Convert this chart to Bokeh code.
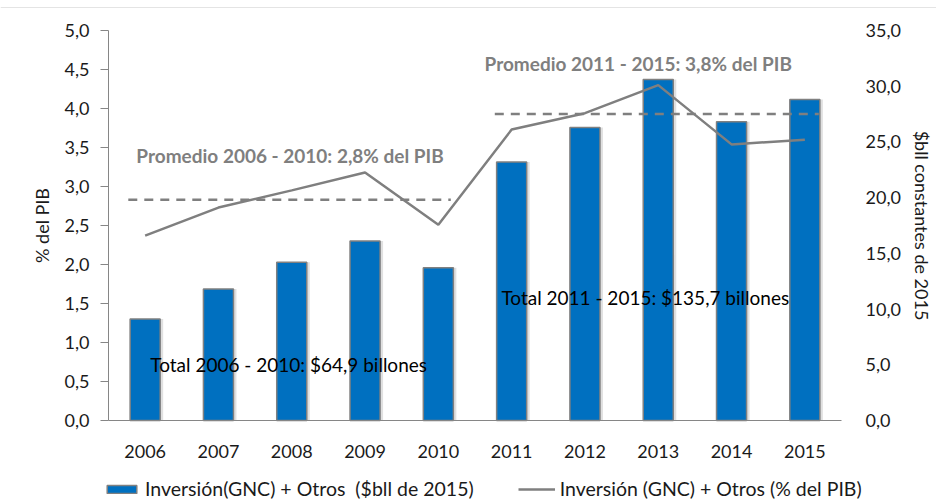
from bokeh.plotting import figure
from bokeh.models import (Range1d, LinearAxis, FixedTicker, CustomJSTickFormatter,
                          Label, Legend, LegendItem, ColumnDataSource, Span)
from bokeh.transform import dodge
from bokeh.embed import file_html
from bokeh.resources import INLINE

# ---- data ----
years = [2006, 2007, 2008, 2009, 2010, 2011, 2012, 2013, 2014, 2015]
inversion_bll = [9.1, 11.8, 14.2, 16.1, 13.7, 23.2, 26.3, 30.6, 26.8, 28.8]
inversion_pib = [2.37, 2.73, 2.95, 3.18, 2.51, 3.73, 3.94, 4.30, 3.54, 3.60]
promedio_nivel = [2.83, 3.93]
left_ticks = [0.0, 0.5, 1.0, 1.5, 2.0, 2.5, 3.0, 3.5, 4.0, 4.5, 5.0]
right_ticks = [0, 5, 10, 15, 20, 25, 30, 35]

FONT = "Lato"
TXT = "#1a1a1a"
GREY = "#7f7f7f"

# layout (screen px): plot box from x=108 to 841 and y=30 to 420 on a 936x501 canvas
W, H = 936, 501
PX_PER_YEAR = 733 / 10.0
PX_PER_PCT = 390 / 5.0
PX_PER_BLL = 390 / 35.0
LEFT, TOP, BOTTOM = 108, 30, 81

src = ColumnDataSource(dict(year=years, bll=inversion_bll, pib=inversion_pib))

x0 = 2005.5 - LEFT / PX_PER_YEAR
x1 = x0 + W / PX_PER_YEAR
p = figure(width=W, height=H, output_backend="svg", toolbar_location=None,
           x_range=Range1d(x0, x1),
           y_range=Range1d(-BOTTOM / PX_PER_PCT, 5 + TOP / PX_PER_PCT),
           min_border=0, outline_line_color=None)
p.extra_y_ranges = {"bll": Range1d(-BOTTOM / PX_PER_BLL, 35 + TOP / PX_PER_BLL)}
p.xgrid.visible = False
p.ygrid.visible = False

# faint frame line at the top of the picture
p.add_layout(Span(location=5 + 23 / PX_PER_PCT, dimension="width",
                  line_color="#e4e4e4", line_width=1))

# bar shadow + bars (right axis)
p.vbar(x=dodge("year", 3 / PX_PER_YEAR, range=p.x_range), top="bll", bottom=0,
       width=0.41, source=src, y_range_name="bll",
       fill_color="#000000", fill_alpha=0.12, line_color=None)
bars = p.vbar(x="year", top="bll", bottom=0, width=0.41, source=src, y_range_name="bll",
              fill_color="#0070c0", line_color="#808080", line_width=1.5)

# line (left axis)
line = p.line(x="year", y="pib", source=src, line_color=GREY, line_width=2.5)

# dashed averages
p.segment(x0=[2005.77, 2010.77], x1=[2010.17, 2015.19],
          y0=promedio_nivel, y1=promedio_nivel,
          line_color=GREY, line_width=2.5, line_dash="9 7")

# axes styling
fmt = CustomJSTickFormatter(code="return tick.toFixed(1).replace('.', ',');")
ya = p.yaxis[0]
ya.fixed_location = 2005.5
ya.ticker = FixedTicker(ticks=left_ticks)
ya.formatter = fmt
ya.bounds = (0, 5)
ya.axis_label = "% del PIB"
ya.axis_line_color = "#868686"
ya.major_tick_line_color = "#868686"
ya.major_tick_out = 8
ya.major_tick_in = 0
ya.minor_tick_line_color = None
ya.major_label_standoff = 11
ya.axis_label_standoff = 9
ya.major_label_text_font = FONT
ya.major_label_text_font_size = "18px"
ya.major_label_text_color = TXT
ya.axis_label_text_font = FONT
ya.axis_label_text_font_size = "18px"
ya.axis_label_text_font_style = "normal"
ya.axis_label_text_color = TXT

ra = LinearAxis(y_range_name="bll", ticker=FixedTicker(ticks=right_ticks), formatter=fmt,
                axis_label="$bll constantes de 2015", bounds=(0, 35),
                fixed_location=2015.5)
ra.axis_line_color = None
ra.major_tick_line_color = None
ra.minor_tick_line_color = None
ra.major_label_standoff = 18
ra.axis_label_standoff = 7
ra.major_label_text_font = FONT
ra.major_label_text_font_size = "18px"
ra.major_label_text_color = TXT
ra.axis_label_text_font = FONT
ra.axis_label_text_font_size = "18px"
ra.axis_label_text_font_style = "normal"
ra.axis_label_text_color = TXT
p.add_layout(ra, "right")

xa = p.xaxis[0]
xa.fixed_location = 0
xa.bounds = (2005.5, 2015.5)
xa.ticker = FixedTicker(ticks=years)
xa.formatter = CustomJSTickFormatter(code="return tick.toFixed(0);")
xa.axis_line_color = "#868686"
xa.major_tick_line_color = None
xa.minor_tick_line_color = None
xa.major_label_standoff = 18
xa.major_label_text_font = FONT
xa.major_label_text_font_size = "18px"
xa.major_label_text_color = TXT

# annotations
for txt, x, y, bold, col in [
    ("Promedio 2006 - 2010: 2,8% del PIB", 2005.88, 3.40, True, GREY),
    ("Promedio 2011 - 2015: 3,8% del PIB", 2010.63, 4.58, True, GREY),
    ("Total 2006 - 2010:  $64,9 billones", 2006.07, 0.72, False, "#000000"),
    ("Total 2011 - 2015:  $135,7 billones", 2010.86, 1.58, False, "#000000"),
]:
    p.add_layout(Label(x=x, y=y, text=txt, text_font=FONT, text_font_size="19px",
                       text_font_style="bold" if bold else "normal", text_color=col,
                       text_baseline="middle", text_align="left"))

legend = Legend(items=[
    LegendItem(label="Inversión(GNC) + Otros  ($bll de 2015)", renderers=[bars]),
    LegendItem(label="Inversión (GNC) + Otros (% del PIB)", renderers=[line]),
], orientation="horizontal", location=(103, 1), border_line_color=None,
   background_fill_alpha=0, glyph_width=37, glyph_height=10, label_standoff=5,
   label_height=20, spacing=44, padding=0, margin=0,
   label_text_font=FONT, label_text_font_size="19.5px", label_text_color=TXT)
p.add_layout(legend, "center")

open("out.html", "w").write(file_html(p, INLINE))
